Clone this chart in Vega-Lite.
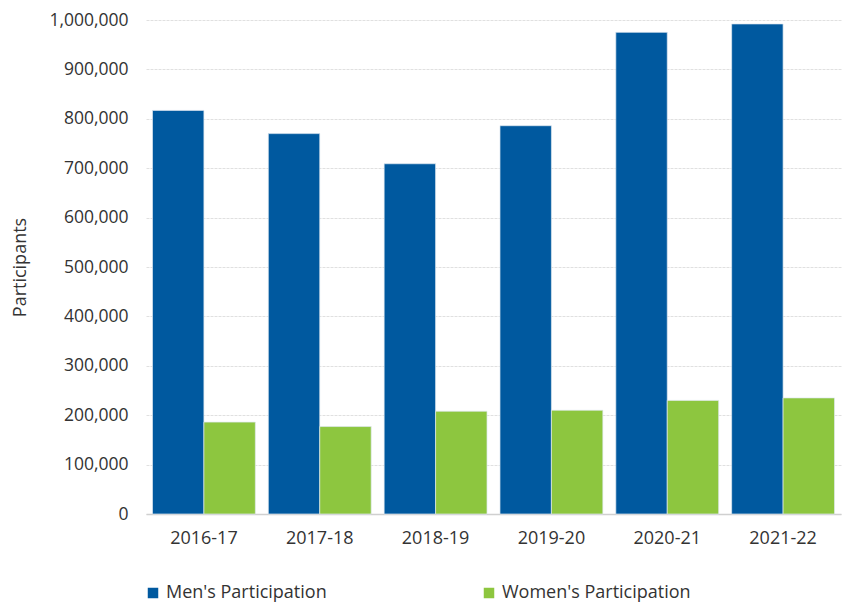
{
  "$schema": "https://vega.github.io/schema/vega-lite/v6.json",
  "autosize": {"type": "none"},
  "width": 695,
  "height": 494,
  "padding": {"left": 146, "top": 20, "right": 6, "bottom": 89},
  "background": "white",
  "data": {
    "values": [
      {"year": "2016-17", "series": "Men's Participation", "value": 817000},
      {"year": "2016-17", "series": "Women's Participation", "value": 186000},
      {"year": "2017-18", "series": "Men's Participation", "value": 770000},
      {"year": "2017-18", "series": "Women's Participation", "value": 177000},
      {"year": "2018-19", "series": "Men's Participation", "value": 709000},
      {"year": "2018-19", "series": "Women's Participation", "value": 208000},
      {"year": "2019-20", "series": "Men's Participation", "value": 786000},
      {"year": "2019-20", "series": "Women's Participation", "value": 210000},
      {"year": "2020-21", "series": "Men's Participation", "value": 975000},
      {"year": "2020-21", "series": "Women's Participation", "value": 230000},
      {"year": "2021-22", "series": "Men's Participation", "value": 992000},
      {"year": "2021-22", "series": "Women's Participation", "value": 235000}
    ]
  },
  "mark": {"type": "bar", "stroke": "#dfe8f0", "strokeWidth": 0.7},
  "encoding": {
    "x": {
      "field": "year", "type": "nominal", "sort": null,
      "scale": {"paddingInner": 0.112, "paddingOuter": 0.056},
      "axis": {"title": null, "labelAngle": 0, "ticks": false, "labelPadding": 15, "labelFontSize": 18, "labelColor": "#333333", "labelFont": "Open Sans", "domainColor": "#d0d0d0", "domainWidth": 1.5}
    },
    "xOffset": {"field": "series", "type": "nominal", "scale": {"paddingInner": 0, "paddingOuter": 0}},
    "y": {
      "field": "value", "type": "quantitative",
      "scale": {"domain": [0, 1000000], "nice": false},
      "axis": {"title": "Participants", "titleFontSize": 18, "titleFontWeight": "normal", "titleColor": "#333333", "titleFont": "Open Sans", "titlePadding": 19, "format": ",d", "values": [0,100000,200000,300000,400000,500000,600000,700000,800000,900000,1000000], "labelOverlap": false, "domain": false, "ticks": false, "labelPadding": 18, "labelFontSize": 17.5, "labelColor": "#333333", "labelFont": "Open Sans", "gridColor": "#e0e0e0", "gridDash": [3, 1]}
    },
    "color": {
      "field": "series", "type": "nominal",
      "scale": {"domain": ["Men's Participation", "Women's Participation"], "range": ["#00599f", "#8dc63f"]},
      "legend": {"title": null, "orient": "none", "direction": "horizontal", "legendX": -2, "legendY": 564, "symbolType": "square", "symbolSize": 110, "symbolStrokeWidth": 0, "labelFontSize": 18, "labelColor": "#333333", "labelFont": "Open Sans", "labelOffset": 4, "columnPadding": 153, "labelLimit": 300}
    }
  },
  "config": {"view": {"stroke": null}}
}
